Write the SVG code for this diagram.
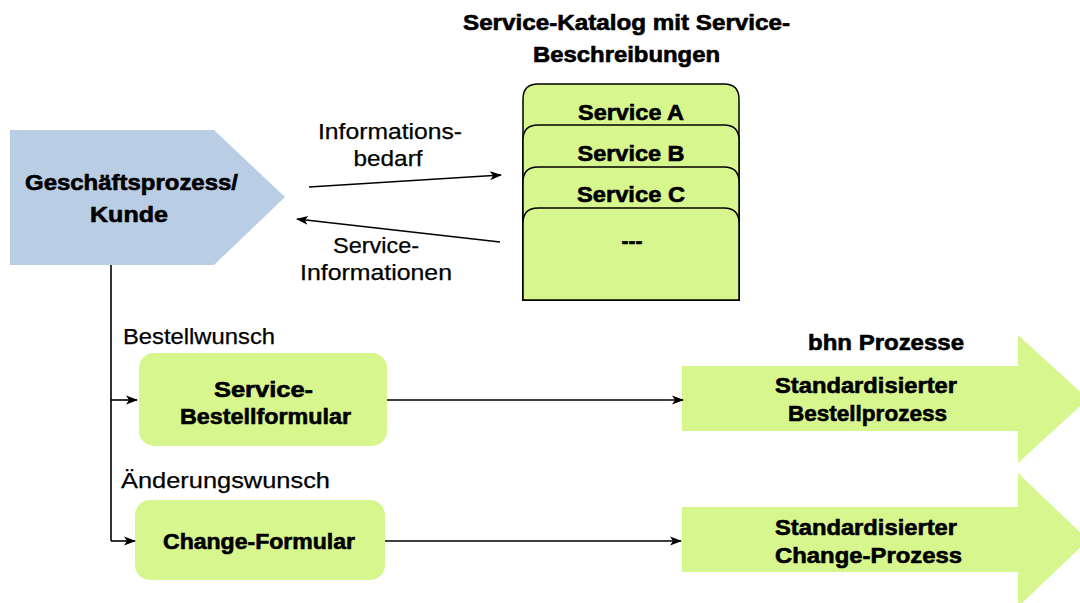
<svg xmlns="http://www.w3.org/2000/svg" width="1080" height="603" viewBox="0 0 1080 603">
<style>
text{font-family:"Liberation Sans",Arial,sans-serif;font-size:21.5px;fill:#000;stroke:#000;stroke-width:0.25;}
.b{font-weight:bold;stroke-width:0.6;}
.c{text-anchor:middle;}
.g{fill:#d8f68e;}
.card{fill:#d8f68e;stroke:#000;stroke-width:1.5;}
.ln{fill:none;stroke:#000;stroke-width:1.6;}
</style>
<defs>
<marker id="ah" markerWidth="12" markerHeight="10" refX="11" refY="5" orient="auto" markerUnits="userSpaceOnUse">
<path d="M0,0.5 L12,5 L0,9.5 L3,5 z" fill="#000"/>
</marker>
</defs>

<g id="title">
<text class="b c" x="626.5" y="30" textLength="327" lengthAdjust="spacingAndGlyphs">Service-Katalog mit Service-</text>
<text class="b c" x="626.5" y="62" textLength="187" lengthAdjust="spacingAndGlyphs">Beschreibungen</text>
</g>

<g id="geschaeftsprozess">
<polygon points="10,130 214,130 285,197 214,265 10,265" fill="#b9cde5"/>
<text class="b c" x="131.5" y="190" textLength="213" lengthAdjust="spacingAndGlyphs">Geschäftsprozess/</text>
<text class="b c" x="129" y="222" textLength="78" lengthAdjust="spacingAndGlyphs">Kunde</text>
</g>

<g id="service-katalog">
<path class="card" d="M523,300 V99 Q523,84 538,84 H724 Q739,84 739,99 V300 Z"/>
<path class="card" d="M523,300 V140 Q523,125 538,125 H724 Q739,125 739,140 V300 Z"/>
<path class="card" d="M523,300 V182 Q523,167 538,167 H724 Q739,167 739,182 V300 Z"/>
<path class="card" d="M523,300 V223 Q523,208 538,208 H724 Q739,208 739,223 V300 Z"/>
<text class="b c" x="631" y="120" textLength="106" lengthAdjust="spacingAndGlyphs">Service A</text>
<text class="b c" x="631" y="161" textLength="107" lengthAdjust="spacingAndGlyphs">Service B</text>
<text class="b c" x="631" y="202" textLength="108" lengthAdjust="spacingAndGlyphs">Service C</text>
<text class="b c" x="632" y="248" textLength="21" lengthAdjust="spacingAndGlyphs">---</text>
</g>

<g id="service-bestellformular">
<rect class="g" x="139" y="353" width="248" height="93" rx="15"/>
<text class="b c" x="263.5" y="397" textLength="99" lengthAdjust="spacingAndGlyphs">Service-</text>
<text class="b c" x="265.5" y="424" textLength="171" lengthAdjust="spacingAndGlyphs">Bestellformular</text>
</g>

<g id="change-formular">
<rect class="g" x="135" y="500" width="250" height="80" rx="15"/>
<text class="b c" x="259" y="549" textLength="192" lengthAdjust="spacingAndGlyphs">Change-Formular</text>
</g>

<g id="bestellprozess">
<polygon class="g" points="682,366 1018,366 1018,335 1088,399 1018,463 1018,431 682,431"/>
<text class="b c" x="866" y="393" textLength="182" lengthAdjust="spacingAndGlyphs">Standardisierter</text>
<text class="b c" x="867.5" y="421" textLength="159" lengthAdjust="spacingAndGlyphs">Bestellprozess</text>
</g>

<g id="change-prozess">
<polygon class="g" points="682,507 1018,507 1018,473 1088,540 1018,607 1018,572 682,572"/>
<text class="b c" x="866" y="535" textLength="182" lengthAdjust="spacingAndGlyphs">Standardisierter</text>
<text class="b c" x="868.5" y="563" textLength="187" lengthAdjust="spacingAndGlyphs">Change-Prozess</text>
</g>

<g id="labels">
<text class="b c" x="886" y="350" textLength="156" lengthAdjust="spacingAndGlyphs">bhn Prozesse</text>
<text class="c" x="390" y="139" textLength="144" lengthAdjust="spacingAndGlyphs">Informations-</text>
<text class="c" x="388" y="166" textLength="69" lengthAdjust="spacingAndGlyphs">bedarf</text>
<text class="c" x="376" y="253" textLength="86" lengthAdjust="spacingAndGlyphs">Service-</text>
<text class="c" x="376" y="280" textLength="152" lengthAdjust="spacingAndGlyphs">Informationen</text>
<text x="123" y="344" textLength="152" lengthAdjust="spacingAndGlyphs">Bestellwunsch</text>
<text x="121" y="488" textLength="209" lengthAdjust="spacingAndGlyphs">Änderungswunsch</text>
</g>

<g id="connectors">
<line class="ln" x1="309" y1="187" x2="501" y2="175" marker-end="url(#ah)"/>
<line class="ln" x1="500" y1="242" x2="297" y2="219" marker-end="url(#ah)"/>
<path class="ln" d="M111,265 V541"/>
<line class="ln" x1="111" y1="400" x2="137" y2="400" marker-end="url(#ah)"/>
<line class="ln" x1="111" y1="541" x2="135" y2="541" marker-end="url(#ah)"/>
<line class="ln" x1="387" y1="400" x2="683" y2="400" marker-end="url(#ah)"/>
<line class="ln" x1="385" y1="541" x2="681" y2="541" marker-end="url(#ah)"/>
</g>
</svg>
